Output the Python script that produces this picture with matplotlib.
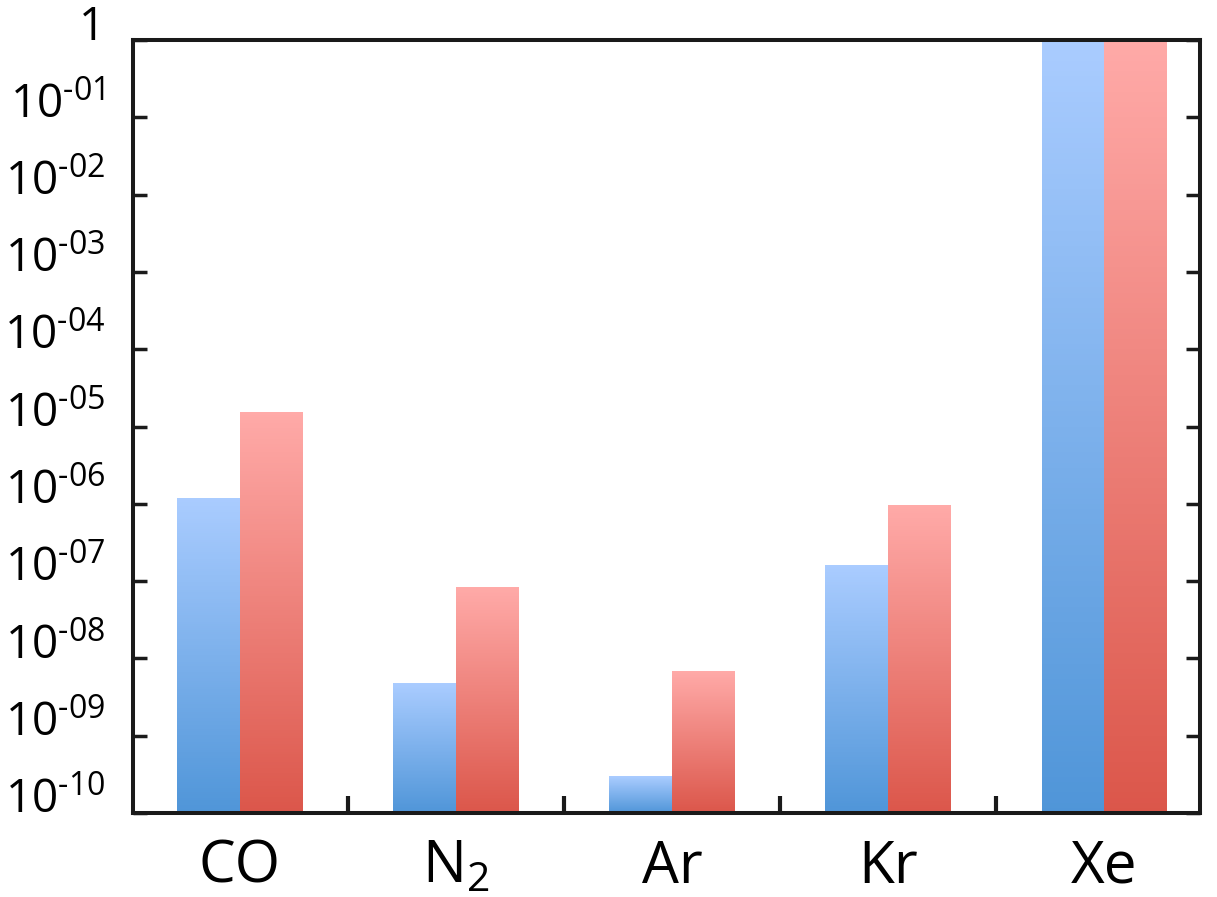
import matplotlib
matplotlib.use("Agg")
import matplotlib.pyplot as plt
import numpy as np
from matplotlib.colors import to_rgb

plt.rcParams['font.family'] = ['Open Sans', 'DejaVu Sans']
plt.rcParams['mathtext.fontset'] = 'custom'
plt.rcParams['mathtext.rm'] = 'Open Sans'

categories = [r'CO', r'N$\mathregular{_2}$', 'Ar', 'Kr', 'Xe']
series_blue = [1.2e-6, 4.8e-9, 3.0e-10, 1.6e-7, 1.0]
series_red = [1.54e-5, 8.4e-8, 6.9e-9, 9.6e-7, 1.0]
ytick_values = [1e-10, 1e-9, 1e-8, 1e-7, 1e-6, 1e-5, 1e-4, 1e-3, 1e-2, 1e-1, 1]
ytick_exps = ['10', '09', '08', '07', '06', '05', '04', '03', '02', '01', None]
ytick_labels = [('1' if e is None else r'$\mathregular{10^{\text{-}' + e + '}}$') for e in ytick_exps]

blue_top, blue_bot = '#aaccff', '#4f95d8'
red_top, red_bot = '#ffaaa8', '#db564a'

ymin, ymax = 1e-10, 1.0

fig = plt.figure(figsize=(12.17, 8.97), dpi=100)
ax = fig.add_axes([0.1093, 0.0936, 0.9861 - 0.1093, 0.9554 - 0.0936])
ax.set_yscale('log')
ax.set_ylim(ymin, ymax)
ax.set_xlim(-0.495, 4.444)

width = 0.29
x = np.arange(len(categories))

def grad_bar(xc, val, ctop, cbot, n=150):
    ct = np.array(to_rgb(ctop)); cb = np.array(to_rgb(cbot))
    lo, hi = np.log10(ymin), np.log10(val)
    edges = np.linspace(lo, hi, n + 1)
    for i in range(n):
        b = 10 ** edges[i]; t = 10 ** edges[i + 1]
        frac = 1 - (i + 0.5) / n  # 1 at bottom, 0 at top
        c = ct + (cb - ct) * frac
        ax.bar(xc, t - b, bottom=b, width=width, color=c, linewidth=0,
               antialiased=False, align='edge', zorder=2)

for i in range(len(categories)):
    grad_bar(x[i] - width, series_blue[i], blue_top, blue_bot)
    grad_bar(x[i], series_red[i], red_top, red_bot)

for s in ax.spines.values():
    s.set_linewidth(2.9)
    s.set_color('#1a1a1a')
    s.set_zorder(5)

ax.set_yticks(ytick_values)
ax.set_yticklabels(ytick_labels)
ax.yaxis.set_minor_locator(matplotlib.ticker.NullLocator())
ax.tick_params(axis='y', which='major', direction='in', length=10, width=2.5,
               labelsize=33, pad=20, right=True, color='#1a1a1a')
for lab in ax.get_yticklabels():
    lab.set_va('baseline')

ax.set_xticks(x)
ax.set_xticklabels(categories)
ax.set_xticks(x[:-1] + 0.5, minor=True)
ax.tick_params(axis='x', which='major', length=0, labelsize=42, pad=18)
ax.tick_params(axis='x', which='minor', direction='in', length=12, width=3, color='#1a1a1a')

fig.savefig('out.png', dpi=100)
